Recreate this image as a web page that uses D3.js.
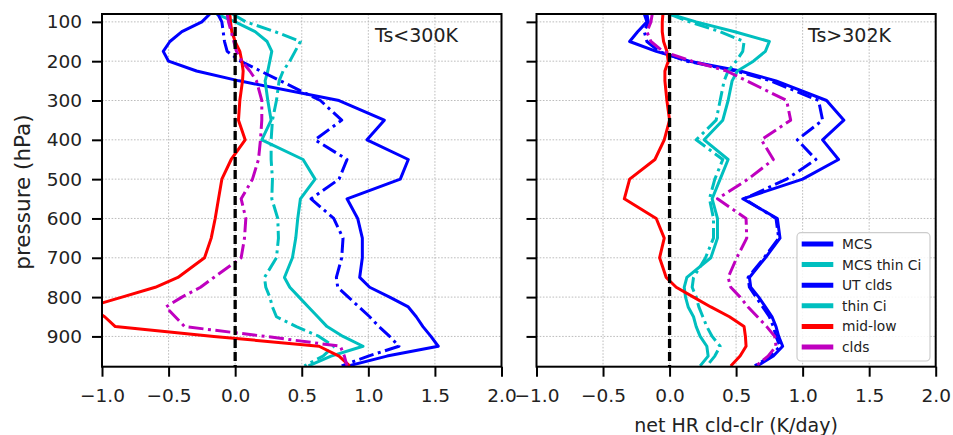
<!DOCTYPE html>
<html><head><meta charset="utf-8">
<script src="https://cdn.jsdelivr.net/npm/d3@7"></script>
<style>body{margin:0;background:#fff}svg{display:block;font-family:"DejaVu Sans",sans-serif}</style>
</head><body><svg id="chart" width="953" height="435"></svg>
<script>
// ---- data ----
const pressureLevels = [80,100,125,150,175,200,225,250,300,350,400,450,500,550,600,650,700,750,775,800,825,850,875,900,925,950,975];
const seriesNames = ["MCS","MCS thin Ci","UT clds","thin Ci","mid-low","clds"];
const panelTitles = ["Ts<300K","Ts>302K"];
const xTickValues = [-1.0,-0.5,0.0,0.5,1.0,1.5,2.0];
const yTickValues = [100,200,300,400,500,600,700,800,900];

// left panel (Ts<300K)
const leftMCS       = [-0.19,-0.25,-0.40,-0.49,-0.54,-0.50,-0.29,0.03,0.78,1.12,0.99,1.30,1.24,0.84,0.92,0.955,0.955,0.935,1.01,1.16,1.30,1.36,1.41,1.47,1.525,1.14,0.85];
const leftMCSthinCi = [-0.14,0.0,0.15,0.24,0.275,0.26,0.245,0.225,0.245,0.27,0.20,0.51,0.60,0.49,0.47,0.455,0.43,0.37,0.41,0.48,0.55,0.62,0.69,0.81,0.96,0.72,0.55];
const leftUTclds    = [-0.13,-0.10,-0.09,-0.08,-0.06,0.04,0.19,0.34,0.64,0.80,0.60,0.84,0.78,0.57,0.74,0.81,0.80,0.76,0.77,0.85,0.93,1.01,1.08,1.16,1.23,1.0,0.80];
const leftThinCi    = [-0.02,0.08,0.30,0.49,0.45,0.41,0.36,0.33,0.31,0.28,0.27,0.27,0.28,0.275,0.32,0.325,0.31,0.22,0.23,0.26,0.28,0.31,0.46,0.63,0.74,0.66,0.52];
const leftMidLow    = [-0.04,-0.035,-0.025,0.0,0.035,0.05,0.06,0.055,0.035,0.025,0.075,-0.03,-0.10,-0.125,-0.15,-0.18,-0.23,-0.43,-0.60,-0.85,-1.10,-0.98,-0.90,-0.16,0.63,0.78,0.86];
const leftClds      = [-0.06,-0.05,-0.03,-0.01,0.01,0.05,0.11,0.16,0.20,0.20,0.19,0.175,0.13,0.045,0.08,0.07,0.045,-0.16,-0.26,-0.40,-0.52,-0.45,-0.38,0.23,0.79,0.82,0.84];

// right panel (Ts>302K)
const rightMCS       = [-0.19,-0.17,-0.24,-0.30,-0.10,0.15,0.53,0.80,1.18,1.31,1.15,1.27,1.0,0.55,0.81,0.83,0.72,0.60,0.61,0.67,0.72,0.77,0.80,0.82,0.85,0.78,0.66];
const rightMCSthinCi = [0.0,0.20,0.49,0.75,0.72,0.63,0.51,0.47,0.44,0.40,0.26,0.44,0.38,0.32,0.36,0.36,0.31,0.13,0.11,0.12,0.14,0.18,0.20,0.23,0.28,0.29,0.23];
const rightUTclds    = [-0.17,-0.16,-0.19,-0.17,-0.08,0.13,0.50,0.76,1.12,1.15,0.96,1.10,0.88,0.56,0.80,0.82,0.71,0.59,0.60,0.65,0.70,0.75,0.78,0.80,0.83,0.76,0.64];
const rightThinCi    = [0.0,0.15,0.38,0.56,0.55,0.50,0.44,0.41,0.38,0.35,0.20,0.40,0.34,0.30,0.33,0.33,0.27,0.18,0.17,0.20,0.22,0.25,0.28,0.32,0.38,0.34,0.28];
const rightMidLow    = [-0.05,-0.055,-0.055,-0.045,-0.02,-0.01,-0.035,-0.035,-0.02,0.00,-0.04,-0.11,-0.30,-0.34,-0.10,-0.04,-0.075,-0.025,0.05,0.18,0.31,0.45,0.56,0.57,0.575,0.53,0.46];
const rightClds      = [-0.13,-0.14,-0.17,-0.14,-0.05,0.17,0.43,0.58,0.88,0.91,0.69,0.78,0.59,0.36,0.575,0.58,0.505,0.44,0.46,0.53,0.59,0.66,0.73,0.79,0.80,0.74,0.65];

// ---- styles ----
const seriesStyle = {
  "MCS":         {color:"#0000ff", dash:null},
  "MCS thin Ci": {color:"#00bfbf", dash:null},
  "UT clds":     {color:"#0000ff", dash:"15,4.5,3,4.5"},
  "thin Ci":     {color:"#00bfbf", dash:"15,4.5,3,4.5"},
  "mid-low":     {color:"#ff0000", dash:null},
  "clds":        {color:"#bf00bf", dash:"15,4.5,3,4.5"}
};

const svg = d3.select("#chart");
const plotTop = 14, plotBottom = 366.7;
const y = d3.scaleLinear().domain([80, 977]).range([plotTop, plotBottom]);

const panels = [
  {title: panelTitles[0], series:[leftMCS,leftMCSthinCi,leftUTclds,leftThinCi,leftMidLow,leftClds], xr:[102,501.5], yLabels:true, titleX:375},
  {title: panelTitles[1], series:[rightMCS,rightMCSthinCi,rightUTclds,rightThinCi,rightMidLow,rightClds], xr:[536.5,935.7], yLabels:false, titleX:808}
];

panels.forEach((p, pi) => {
  const x = d3.scaleLinear().domain([-1, 2]).range(p.xr);
  const g = svg.append("g");
  const clipId = "clip" + pi;
  svg.append("clipPath").attr("id", clipId).append("rect")
    .attr("x", p.xr[0]).attr("y", plotTop).attr("width", p.xr[1]-p.xr[0]).attr("height", plotBottom-plotTop);

  // grid
  g.append("g").selectAll("line").data(xTickValues).join("line")
    .attr("x1", d=>x(d)).attr("x2", d=>x(d)).attr("y1", plotTop).attr("y2", plotBottom)
    .attr("stroke", "#b5b5b5").attr("stroke-width", 0.9).attr("stroke-dasharray", "1.6,1.6");
  g.append("g").selectAll("line").data(yTickValues).join("line")
    .attr("y1", d=>y(d)).attr("y2", d=>y(d)).attr("x1", p.xr[0]).attr("x2", p.xr[1])
    .attr("stroke", "#b5b5b5").attr("stroke-width", 0.9).attr("stroke-dasharray", "1.6,1.6");

  // series
  const line = d3.line().x(d=>x(d.v)).y(d=>y(d.p));
  const lg = g.append("g").attr("clip-path", `url(#${clipId})`);
  p.series.forEach((vals, si) => {
    const st = seriesStyle[seriesNames[si]];
    const pts = pressureLevels.map((pr, i) => ({p: pr, v: vals[i]}));
    lg.append("path").datum(pts).attr("d", line)
      .attr("fill", "none").attr("stroke", st.color).attr("stroke-width", 3)
      .attr("stroke-linejoin", "round")
      .attr("stroke-dasharray", st.dash);
  });
  // zero line
  lg.append("line").attr("x1", x(0)).attr("x2", x(0)).attr("y1", plotTop).attr("y2", plotBottom)
    .attr("stroke", "#000").attr("stroke-width", 3.3).attr("stroke-dasharray", "9,4");

  // axes
  const xAxis = d3.axisBottom(x).tickValues(xTickValues).tickFormat(d3.format(".1f")).tickSize(10).tickPadding(12);
  const gx = g.append("g").attr("transform", `translate(0,${plotBottom})`).call(xAxis);
  const yAxis = d3.axisLeft(y).tickValues(yTickValues).tickSize(10).tickPadding(10)
    .tickFormat(p.yLabels ? d3.format("d") : () => "");
  const gy = g.append("g").attr("transform", `translate(${p.xr[0]},0)`).call(yAxis);
  [gx, gy].forEach(a => {
    a.select(".domain").remove();
    a.selectAll(".tick line").attr("stroke", "#000").attr("stroke-width", 2);
    a.selectAll(".tick text").attr("fill", "#222").attr("font-size", 18.5).attr("font-family", "DejaVu Sans");
  });

  // frame
  g.append("rect").attr("x", p.xr[0]).attr("y", plotTop).attr("width", p.xr[1]-p.xr[0]).attr("height", plotBottom-plotTop)
    .attr("fill", "none").attr("stroke", "#000").attr("stroke-width", 2);

  // title
  g.append("text").attr("x", p.titleX).attr("y", 41.5).attr("font-size", 19).attr("fill", "#222").text(p.title);
});

// axis labels
svg.append("text").attr("transform", "translate(30,192) rotate(-90)").attr("text-anchor", "middle")
  .attr("font-size", 21.5).attr("fill", "#222").text("pressure (hPa)");
svg.append("text").attr("x", 736).attr("y", 431.5).attr("text-anchor", "middle")
  .attr("font-size", 19).attr("fill", "#222").text("net HR cld-clr (K/day)");

// legend
const lgd = svg.append("g");
lgd.append("rect").attr("x", 797).attr("y", 232.7).attr("width", 133).attr("height", 128.3).attr("rx", 4)
  .attr("fill", "#fff").attr("fill-opacity", 0.85).attr("stroke", "#cccccc").attr("stroke-width", 1.2);
seriesNames.forEach((name, i) => {
  const yy = 249 + i * 20.6;
  lgd.append("line").attr("x1", 801.7).attr("x2", 833.3).attr("y1", yy - 5).attr("y2", yy - 5)
    .attr("stroke", seriesStyle[name].color).attr("stroke-width", 5);
  lgd.append("text").attr("x", 842).attr("y", yy).attr("font-size", 13.8).attr("fill", "#222").text(name);
});
</script></body></html>
